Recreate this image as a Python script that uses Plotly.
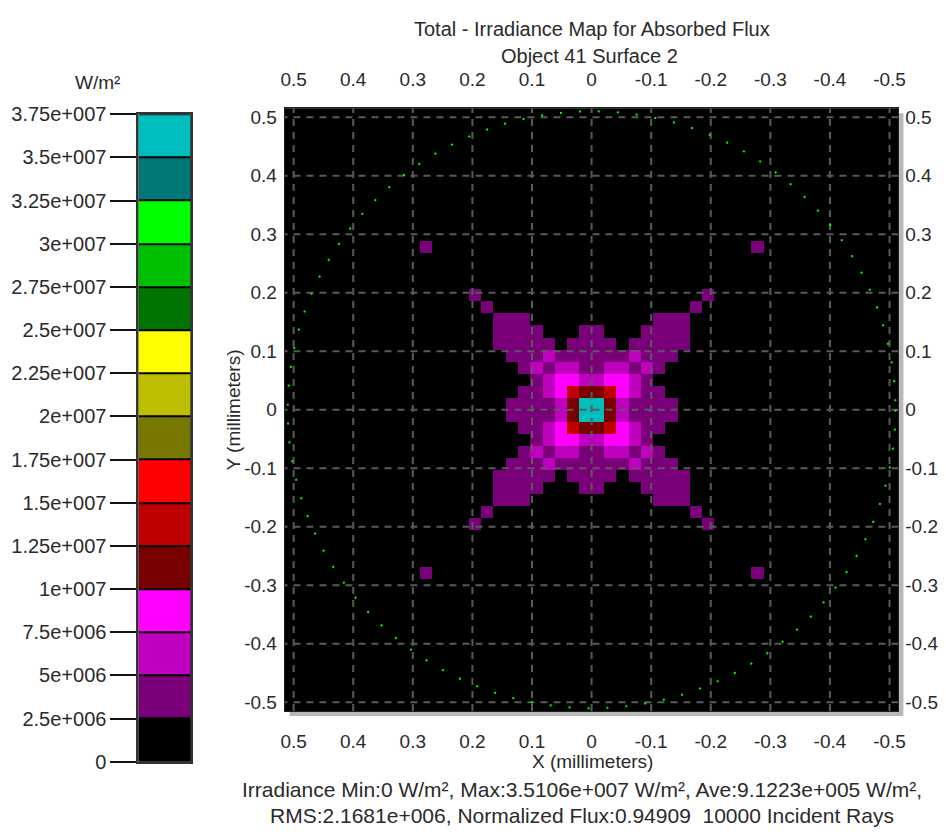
import numpy as np
import plotly.graph_objects as go

# ---- detector geometry -------------------------------------------------
DETECTOR_HALF_WIDTH = 0.515   # mm
N_PIXELS = 50

# ---- irradiance levels (W/m^2) ------------------------------------------
K = 0.0        # below first band
P = 3.6e6      # 2.5e6 - 5e6
M = 6.2e6      # 5e6 - 7.5e6
F = 8.8e6      # 7.5e6 - 1e7
D = 1.12e7     # 1e7 - 1.25e7
R = 1.38e7     # 1.25e7 - 1.5e7
C = 3.5106e7   # peak

# One quadrant of the map: row = pixel distance from centre in y,
# column = pixel distance from centre in x (map is mirror-symmetric).
QUADRANT = [
    [C, D, M, P, P, P, P, K, K, K, K, K, K, K],
    [D, R, F, M, P, P, K, K, K, K, K, K, K, K],
    [M, F, F, M, P, K, K, K, K, K, K, K, K, K],
    [P, M, M, P, M, P, K, K, K, K, K, K, K, K],
    [P, P, P, M, P, P, P, K, K, K, K, K, K, K],
    [P, P, K, P, P, P, P, P, K, K, K, K, K, K],
    [P, K, K, K, P, P, P, P, K, K, K, K, K, K],
    [K, K, K, K, K, P, P, P, K, K, K, K, K, K],
    [K, K, K, K, K, K, K, K, P, K, K, K, K, K],
    [K, K, K, K, K, K, K, K, K, P, K, K, K, K],
    [K, K, K, K, K, K, K, K, K, K, K, K, K, K],
    [K, K, K, K, K, K, K, K, K, K, K, K, K, K],
    [K, K, K, K, K, K, K, K, K, K, K, K, K, K],
    [K, K, K, K, K, K, K, K, K, K, K, K, K, P],
]

# ---- colour legend ------------------------------------------------------
BAND_EDGES = [0, 2.5e6, 5e6, 7.5e6, 1e7, 1.25e7, 1.5e7, 1.75e7, 2e7,
              2.25e7, 2.5e7, 2.75e7, 3e7, 3.25e7, 3.5e7, 3.75e7]
BAND_LABELS = ["0", "2.5e+006", "5e+006", "7.5e+006", "1e+007", "1.25e+007",
               "1.5e+007", "1.75e+007", "2e+007", "2.25e+007", "2.5e+007",
               "2.75e+007", "3e+007", "3.25e+007", "3.5e+007", "3.75e+007"]
BAND_COLORS = ["#000000", "#7a007a", "#bf00bf", "#ff00ff", "#780000",
               "#bf0000", "#ff0000", "#787800", "#bebe00", "#ffff00",
               "#007400", "#00be00", "#00ff00", "#007878", "#00bebe"]

AXIS_TICKS = [0.5, 0.4, 0.3, 0.2, 0.1, 0.0, -0.1, -0.2, -0.3, -0.4, -0.5]
AXIS_LABELS = ["0.5", "0.4", "0.3", "0.2", "0.1", "0", "-0.1", "-0.2",
               "-0.3", "-0.4", "-0.5"]
APERTURE_RADIUS = 0.51  # mm

TITLE_1 = "Total - Irradiance Map for Absorbed Flux"
TITLE_2 = "Object 41 Surface 2"
FOOTER_1 = ("Irradiance Min:0 W/m², Max:3.5106e+007 W/m², "
            "Ave:9.1223e+005 W/m²,")
FOOTER_2 = "RMS:2.1681e+006, Normalized Flux:0.94909  10000 Incident Rays"

# ---- build full map from the quadrant ----------------------------------
q = np.array(QUADRANT)
qn = q.shape[0]
half = N_PIXELS // 2
z = np.zeros((N_PIXELS, N_PIXELS))
for j in range(N_PIXELS):
    a = j - half if j >= half else half - 1 - j
    for i in range(N_PIXELS):
        b = i - half if i >= half else half - 1 - i
        if a < qn and b < qn:
            z[j, i] = q[a, b]
pitch = 2 * DETECTOR_HALF_WIDTH / N_PIXELS
centres = -DETECTOR_HALF_WIDTH + pitch * (np.arange(N_PIXELS) + 0.5)

zmax = BAND_EDGES[-1]
nb = len(BAND_COLORS)
colorscale = []
for k, col in enumerate(BAND_COLORS):
    colorscale.append([k / nb, col])
    colorscale.append([(k + 1) / nb, col])

W, H = 946, 838
def px(x):
    return x / W
def py(y):
    return 1 - y / H

FONT = "Liberation Sans, Arial, sans-serif"
TXT = "#2a2a2a"
FS = 19

fig = go.Figure()

fig.add_trace(go.Heatmap(
    x=centres, y=centres, z=z, colorscale=colorscale, zmin=0, zmax=zmax,
    showscale=False, xaxis="x", yaxis="y", hoverinfo="skip"))

# legend bar
band_mid = [(BAND_EDGES[k] + BAND_EDGES[k + 1]) / 2 for k in range(nb)]
fig.add_trace(go.Heatmap(
    x=[0], y=BAND_EDGES, z=[[v] for v in band_mid], colorscale=colorscale,
    zmin=0, zmax=zmax, showscale=False, ygap=2,
    xaxis="x2", yaxis="y2", hoverinfo="skip"))

# carrier for the mirrored top / right axes
fig.add_trace(go.Scatter(x=[None], y=[None], xaxis="x3", yaxis="y3",
                         showlegend=False, hoverinfo="skip"))

plot_l, plot_r, plot_t, plot_b = 284, 905, 100, 719
dom_x = [px(plot_l), px(plot_r)]
dom_y = [py(plot_b), py(plot_t)]
rng = [DETECTOR_HALF_WIDTH, -DETECTOR_HALF_WIDTH]
yrng = [-DETECTOR_HALF_WIDTH, DETECTOR_HALF_WIDTH]
tickfont = dict(family=FONT, size=FS, color=TXT)
clear = "rgba(0,0,0,0)"

common = dict(tickvals=AXIS_TICKS, ticktext=AXIS_LABELS, showgrid=False,
              zeroline=False, ticks="outside", tickcolor=clear,
              tickfont=tickfont)

layout = dict(
    width=W, height=H, margin=dict(l=0, r=0, t=0, b=0),
    paper_bgcolor="white", plot_bgcolor="black", showlegend=False,
    xaxis=dict(domain=dom_x, range=rng, anchor="y", side="bottom",
               ticklen=13, showline=True, mirror=True, linecolor="#222",
               linewidth=1, **common),
    yaxis=dict(domain=dom_y, range=yrng, anchor="x", side="left",
               ticklen=3, showline=True, mirror=True, linecolor="#222",
               linewidth=1, **common),
    xaxis3=dict(domain=dom_x, range=rng, anchor="y3", overlaying="x",
                side="top", ticklen=14, **common),
    yaxis3=dict(domain=dom_y, range=yrng, anchor="x3", overlaying="y",
                side="right", ticklen=2, **common),
    xaxis2=dict(domain=[px(136), px(189)], range=[-0.5, 0.5],
                anchor="y2", showticklabels=False, ticks="",
                showgrid=False, zeroline=False, showline=True, mirror=True,
                linecolor="#333", linewidth=2),
    yaxis2=dict(domain=[py(771), py(106)], range=[0, zmax], anchor="x2",
                tickvals=BAND_EDGES, ticktext=BAND_LABELS, ticks="outside",
                ticklen=26, tickwidth=2, tickcolor="#111", showgrid=False,
                zeroline=False, showline=True, mirror=True,
                linecolor="#333", linewidth=2,
                tickfont=dict(family=FONT, size=20, color=TXT)),
)

shapes = []
# drop shadow behind the map frame
shapes.append(dict(type="rect", xref="paper", yref="paper",
                   x0=px(plot_l + 5), x1=px(plot_r + 5),
                   y0=py(plot_b + 5), y1=py(plot_t + 5),
                   fillcolor="#b8b8b8", line=dict(width=0), layer="below"))
# dashed grid drawn over the map
for t in AXIS_TICKS:
    shapes.append(dict(type="line", xref="x", yref="y", x0=t, x1=t,
                       y0=-DETECTOR_HALF_WIDTH, y1=DETECTOR_HALF_WIDTH,
                       line=dict(color="#5a5a5a", width=2, dash="7px,6px"),
                       layer="above"))
    shapes.append(dict(type="line", xref="x", yref="y", y0=t, y1=t,
                       x0=-DETECTOR_HALF_WIDTH, x1=DETECTOR_HALF_WIDTH,
                       line=dict(color="#5a5a5a", width=2, dash="7px,6px"),
                       layer="above"))
# dotted aperture outline
shapes.append(dict(type="circle", xref="x", yref="y",
                   x0=-APERTURE_RADIUS, x1=APERTURE_RADIUS,
                   y0=-APERTURE_RADIUS, y1=APERTURE_RADIUS,
                   line=dict(color="#00ff00", width=2, dash="2px,17px"),
                   layer="above"))
layout["shapes"] = shapes

def label(text, x, y, size=FS, angle=0):
    return dict(text=text, xref="paper", yref="paper", x=px(x), y=py(y),
                showarrow=False, textangle=angle, xanchor="center",
                yanchor="middle", font=dict(family=FONT, size=size, color=TXT))

layout["annotations"] = [
    label(TITLE_1, 595, 18, size=20),
    label(TITLE_2, 592, 46, size=20),
    label("W/m²", 95, 73),
    label("X (millimeters)", 595, 771),
    label("Y (millimeters)", 232, 410, angle=-90),
    label(FOOTER_1, 585, 799, size=21),
    label(FOOTER_2, 585, 826, size=21),
]

fig.update_layout(**layout)
fig.write_html("out.html")
